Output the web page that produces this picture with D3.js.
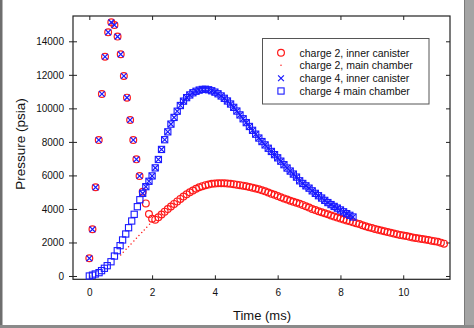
<!DOCTYPE html>
<html>
<head>
<meta charset="utf-8">
<script src="https://cdn.jsdelivr.net/npm/d3@7"></script>
<style>
  html, body { margin: 0; padding: 0; background: #fff; }
  svg { display: block; font-family: "Liberation Sans", Arial, Helvetica, sans-serif; }
</style>
</head>
<body>
<svg id="chart" width="474" height="328"></svg>
<script>
// ---------- data ----------
// shared early spike (charge 2 and charge 4 inner canister)
const spikeTime = [0, 0.1, 0.2, 0.3, 0.4, 0.5, 0.6, 0.7, 0.8, 0.9, 1.0, 1.1, 1.2, 1.3, 1.4, 1.5, 1.6];
const spikeP = [1055, 2785, 5290, 8110, 10855, 13080, 14535, 15130, 14970, 14280, 13225, 11930, 10640, 9305, 8110, 6960, 5965];

// charge 2, inner canister (after spike)
const c2InnerTime = [1.7, 1.8, 1.9,
  2.0, 2.1, 2.2, 2.3, 2.4, 2.5, 2.6, 2.7, 2.8, 2.9,
  3.0, 3.1, 3.2, 3.3, 3.4, 3.5, 3.6, 3.7, 3.8, 3.9,
  4.0, 4.1, 4.2, 4.3, 4.4, 4.5, 4.6, 4.7, 4.8, 4.9,
  5.0, 5.1, 5.2, 5.3, 5.4, 5.5, 5.6, 5.7, 5.8, 5.9,
  6.0, 6.1, 6.2, 6.3, 6.4, 6.5, 6.6, 6.7, 6.8, 6.9,
  7.0, 7.1, 7.2, 7.3, 7.4, 7.5, 7.6, 7.7, 7.8, 7.9,
  8.0, 8.1, 8.2, 8.3, 8.4, 8.5, 8.6, 8.7, 8.8, 8.9,
  9.0, 9.1, 9.2, 9.3, 9.4, 9.5, 9.6, 9.7, 9.8, 9.9,
  10.0, 10.1, 10.2, 10.3, 10.4, 10.5, 10.6, 10.7, 10.8, 10.9,
  11.0, 11.1, 11.2, 11.3];
const c2InnerP = [5030, 4330, 3700,
  3420, 3360, 3500, 3670, 3840, 3990, 4150, 4300, 4450, 4600,
  4740, 4870, 4990, 5100, 5200, 5290, 5360, 5420, 5460, 5500,
  5520, 5530, 5530, 5530, 5520, 5500, 5480, 5450, 5420, 5390,
  5350, 5310, 5270, 5220, 5170, 5110, 5050, 4980, 4910, 4840,
  4770, 4700, 4630, 4560, 4490, 4430, 4370, 4310, 4240, 4160,
  4080, 4000, 3930, 3860, 3800, 3740, 3680, 3610, 3550, 3490,
  3430, 3370, 3310, 3260, 3200, 3150, 3100, 3030, 2970, 2910,
  2860, 2810, 2760, 2710, 2670, 2620, 2580, 2530, 2490, 2450,
  2410, 2380, 2340, 2300, 2260, 2230, 2200, 2170, 2140, 2110,
  2080, 2040, 1990, 1930];

// charge 2, main chamber (small dots)
const c2MainTime = [1.0, 1.08, 1.17, 1.25, 1.33, 1.42, 1.5, 1.58, 1.67, 1.75, 1.83, 1.92, 2.0];
const c2MainP = [1250, 1410, 1590, 1750, 1910, 2090, 2250, 2410, 2590, 2750, 2910, 3090, 3250];

// charge 4 main chamber, early rise
const c4EarlyTime = [0, 0.1, 0.19, 0.31, 0.39, 0.48, 0.57, 0.69, 0.8, 0.89, 0.98, 1.06, 1.16, 1.25, 1.35, 1.43, 1.53, 1.61];
const c4EarlyP = [0, 50, 120, 200, 320, 460, 615, 850, 1190, 1510, 1810, 2150, 2505, 2880, 3280, 3680, 4135, 4550];

// charge 4 (canister and chamber coincide)
const c4CurveTime = [1.7, 1.8, 1.9,
  2.0, 2.1, 2.2, 2.3, 2.4, 2.5, 2.6, 2.7, 2.8, 2.9,
  3.0, 3.1, 3.2, 3.3, 3.4, 3.5, 3.6, 3.7, 3.8, 3.9,
  4.0, 4.1, 4.2, 4.3, 4.4, 4.5, 4.6, 4.7, 4.8, 4.9,
  5.0, 5.1, 5.2, 5.3, 5.4, 5.5, 5.6, 5.7, 5.8, 5.9,
  6.0, 6.1, 6.2, 6.3, 6.4, 6.5, 6.6, 6.7, 6.8, 6.9,
  7.0, 7.1, 7.2, 7.3, 7.4, 7.5, 7.6, 7.7, 7.8, 7.9,
  8.0, 8.1, 8.2, 8.3, 8.4];
const c4CurveP = [4930, 5330, 5650,
  5970, 6450, 6950, 7550, 8130, 8600, 9060, 9460, 9830, 10170,
  10430, 10640, 10800, 10930, 11020, 11090, 11130, 11140, 11110, 11050,
  10970, 10870, 10740, 10600, 10440, 10260, 10060, 9840, 9610, 9380,
  9150, 8920, 8690, 8460, 8230, 8020, 7820, 7620, 7430, 7240,
  7050, 6850, 6640, 6440, 6260, 6080, 5900, 5680, 5520, 5380,
  5240, 5080, 4930, 4790, 4650, 4510, 4380, 4260, 4150, 4050,
  3940, 3830, 3720, 3620, 3520];

const xTicks = [0, 2, 4, 6, 8, 10];
const yTicks = [0, 2000, 4000, 6000, 8000, 10000, 12000, 14000];
const legendLabels = ["charge 2, inner canister", "charge 2, main chamber", "charge 4, inner canister", "charge 4 main chamber"];
const xTitle = "Time (ms)";
const yTitle = "Pressure (psia)";

// ---------- assemble series ----------
const zip = (t, p) => t.map((d, i) => ({ t: d, p: p[i] }));
const c2Inner = zip(spikeTime.concat(c2InnerTime), spikeP.concat(c2InnerP));
const c2Main = zip(c2MainTime, c2MainP);
const c4Inner = zip(spikeTime.concat(c4CurveTime), spikeP.concat(c4CurveP));
const c4Main = zip(c4EarlyTime.concat(c4CurveTime), c4EarlyP.concat(c4CurveP));

// ---------- layout ----------
const svg = d3.select("#chart");
const L = 73, R = 450, T = 16, B = 279.3;
const RED = "#ff1a1a", BLUE = "#1a1aff";

svg.append("rect").attr("width", 474).attr("height", 328).attr("fill", "#fff");

const x = d3.scaleLinear().domain([-0.52, 11.49]).range([L, R]);
const y = d3.scaleLinear().domain([-197, 15510]).range([B, T]);

// frame
svg.append("rect").attr("x", L).attr("y", T).attr("width", R - L).attr("height", B - T)
  .attr("fill", "none").attr("stroke", "#222").attr("stroke-width", 1.2);

// axes
const fs = "10px";
const gx = svg.append("g").attr("transform", `translate(0,${B})`)
  .call(d3.axisBottom(x).tickValues(xTicks).tickFormat(d3.format("d")).tickSize(-4).tickPadding(10));
gx.select(".domain").remove();
gx.selectAll("text").attr("font-size", fs).attr("fill", "#111").attr("font-family", "Liberation Sans, Arial, sans-serif");
gx.selectAll("line").attr("stroke", "#222");

const gxt = svg.append("g").attr("transform", `translate(0,${T})`)
  .call(d3.axisTop(x).tickValues(xTicks).tickFormat("").tickSize(-4));
gxt.select(".domain").remove();
gxt.selectAll("line").attr("stroke", "#222");

const gy = svg.append("g").attr("transform", `translate(${L},0)`)
  .call(d3.axisLeft(y).tickValues(yTicks).tickFormat(d3.format("d")).tickSizeInner(4).tickSizeOuter(0).tickPadding(5));
gy.select(".domain").remove();
gy.selectAll("line").attr("stroke", "#222").attr("x2", -4).attr("x1", 4);
gy.selectAll("text").attr("font-size", fs).attr("fill", "#111").attr("font-family", "Liberation Sans, Arial, sans-serif")
  .attr("x", -9);

const gyr = svg.append("g").attr("transform", `translate(${R},0)`)
  .call(d3.axisRight(y).tickValues(yTicks).tickFormat("").tickSize(-4));
gyr.select(".domain").remove();
gyr.selectAll("line").attr("stroke", "#222");

// titles
svg.append("text").attr("x", 262).attr("y", 320).attr("text-anchor", "middle")
  .attr("font-size", "13px").attr("fill", "#111").text(xTitle);
svg.append("text").attr("transform", "translate(25,144) rotate(-90)").attr("text-anchor", "middle")
  .attr("font-size", "13.5px").attr("fill", "#111").text(yTitle);

// ---------- marks ----------
const plot = svg.append("g");
const rC = 3.4, hs = 3.1, hx = 2.9;

function circles(g, data) {
  g.selectAll(null).data(data).enter().append("circle")
    .attr("cx", d => x(d.t)).attr("cy", d => y(d.p)).attr("r", rC)
    .attr("fill", "none").attr("stroke", RED).attr("stroke-width", 1.2);
}
function dots(g, data) {
  g.selectAll(null).data(data).enter().append("circle")
    .attr("cx", d => x(d.t)).attr("cy", d => y(d.p)).attr("r", 0.75)
    .attr("fill", RED);
}
function crosses(g, data) {
  g.selectAll(null).data(data).enter().append("path")
    .attr("d", d => {
      const cx = x(d.t), cy = y(d.p);
      return `M${cx - hx},${cy - hx}L${cx + hx},${cy + hx}M${cx - hx},${cy + hx}L${cx + hx},${cy - hx}`;
    })
    .attr("stroke", BLUE).attr("stroke-width", 1.2).attr("fill", "none");
}
function squares(g, data) {
  g.selectAll(null).data(data).enter().append("rect")
    .attr("x", d => x(d.t) - hs).attr("y", d => y(d.p) - hs)
    .attr("width", 2 * hs).attr("height", 2 * hs)
    .attr("fill", "none").attr("stroke", BLUE).attr("stroke-width", 1.1);
}

circles(plot.append("g"), c2Inner);
dots(plot.append("g"), c2Main);
crosses(plot.append("g"), c4Inner);
squares(plot.append("g"), c4Main);

// ---------- legend ----------
const lg = svg.append("g");
lg.append("rect").attr("x", 262.5).attr("y", 38.5).attr("width", 166.5).attr("height", 65.5)
  .attr("fill", "#fff").attr("stroke", "#555").attr("stroke-width", 1);
const rowY = [52.7, 65.3, 78.2, 91];
const mx = 281;
circles(lg.append("g"), [{ t: x.invert(mx), p: y.invert(rowY[0]) }]);
dots(lg.append("g"), [{ t: x.invert(mx), p: y.invert(rowY[1]) }]);
crosses(lg.append("g"), [{ t: x.invert(mx), p: y.invert(rowY[2]) }]);
squares(lg.append("g"), [{ t: x.invert(mx), p: y.invert(rowY[3]) }]);
lg.selectAll("text.lbl").data(legendLabels).enter().append("text").attr("class", "lbl")
  .attr("x", 299.5).attr("y", (d, i) => rowY[i] + 3.8)
  .attr("font-size", "10.5px").attr("fill", "#111").text(d => d);

// ---------- window border of the original screenshot ----------
svg.append("rect").attr("x", 0).attr("y", 0).attr("width", 2.5).attr("height", 328).attr("fill", "#6e6e6e");
svg.append("rect").attr("x", 464.5).attr("y", 0).attr("width", 9.5).attr("height", 328).attr("fill", "#a4a4a4");
svg.append("rect").attr("x", 464).attr("y", 0).attr("width", 1).attr("height", 328).attr("fill", "#7a7a7a");
svg.append("rect").attr("x", 0).attr("y", 325).attr("width", 474).attr("height", 3).attr("fill", "#8a8a8a");
</script>
</body>
</html>
